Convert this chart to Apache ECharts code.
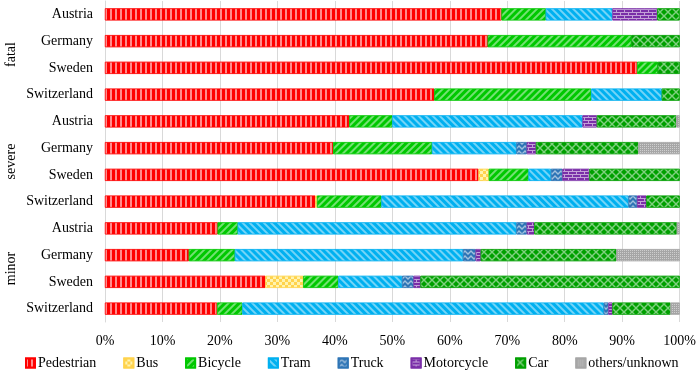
<!DOCTYPE html>
<html>
<head>
<meta charset="utf-8">
<script src="https://cdn.jsdelivr.net/npm/echarts@6/dist/echarts.min.js"></script>
<style>html,body{margin:0;padding:0;background:#fff}#c{width:699px;height:377px}</style>
</head>
<body>
<div id="c"></div>
<script>
const countries = ['Austria','Germany','Sweden','Switzerland','Austria','Germany','Sweden','Switzerland','Austria','Germany','Sweden','Switzerland'];
const groups = ['fatal','severe','minor'];
const xTicks = [0,10,20,30,40,50,60,70,80,90,100];

const pedestrian = [69.0, 66.6, 92.6, 57.3, 42.5, 39.7, 65.0, 36.6, 19.6, 14.6, 27.9, 19.5];
const bus        = [0, 0, 0, 0, 0, 0, 1.8, 0.3, 0, 0, 6.6, 0];
const bicycle    = [7.7, 25.0, 3.6, 27.3, 7.5, 17.2, 6.9, 11.2, 3.5, 8.0, 6.1, 4.4];
const tram       = [11.6, 0, 0, 12.3, 33.1, 14.7, 3.9, 43.0, 48.5, 39.7, 11.1, 62.9];
const truck      = [0, 0, 0, 0, 0, 1.8, 2.0, 1.5, 1.8, 2.2, 2.0, 0.8];
const motorcycle = [7.8, 0, 0, 0, 2.5, 1.6, 4.7, 1.6, 1.3, 0.9, 1.2, 0.7];
const car        = [3.9, 8.4, 3.8, 3.1, 13.8, 17.8, 15.7, 5.8, 24.8, 23.6, 45.1, 10.1];
const others     = [0, 0, 0, 0, 0.6, 7.2, 0, 0, 0.5, 11.0, 0, 1.6];

const seriesNames = ['Pedestrian','Bus','Bicycle','Tram','Truck','Motorcycle','Car','others/unknown'];
const seriesData = [pedestrian, bus, bicycle, tram, truck, motorcycle, car, others];

const styles = [
  {color:'#ff0000', decal:{symbol:'rect', color:'rgba(255,255,255,0.55)', dashArrayX:[1.5,2.5], dashArrayY:[1,0], symbolSize:1}},
  {color:'#ffd34d', decal:{symbol:'rect', color:'#fff3b0', dashArrayX:[[3,3],[0,3,3,0]], dashArrayY:[3,0], symbolSize:1}},
  {color:'#00c800', decal:{symbol:'rect', color:'rgba(255,255,255,0.45)', dashArrayX:[1,0], dashArrayY:[1.2,2.2], rotation:-Math.PI/4, symbolSize:1}},
  {color:'#00b0f0', decal:{symbol:'rect', color:'rgba(255,255,255,0.45)', dashArrayX:[1,0], dashArrayY:[1.2,2.2], rotation:Math.PI/4, symbolSize:1}},
  {color:'#2e75b6', decal:{symbol:'path://M0,3L3,0L6,3L6,5L3,2L0,5Z', color:'rgba(255,255,255,0.55)', dashArrayX:[6,0], dashArrayY:[5,0], symbolSize:1}},
  {color:'#7a2fa8', decal:{symbol:'path://M0,0H8V1H0Z M4,1H5V3H4Z M0,3H8V4H0Z M0,4H1V6H0Z', color:'rgba(255,255,255,0.55)', dashArrayX:[8,0], dashArrayY:[6,0], symbolSize:1}},
  {color:'#00a000', decal:{symbol:'path://M0,0L1,0L8,7L8,8L7,8L0,1Z M7,0L8,0L8,1L1,8L0,8L0,7Z', color:'rgba(255,255,255,0.5)', dashArrayX:[8,0], dashArrayY:[8,0], symbolSize:1}},
  {color:'#a6a6a6', decal:{symbol:'rect', color:'rgba(255,255,255,0.45)', dashArrayX:[1,1], dashArrayY:[1,1], symbolSize:1}}
];

const font = 'Liberation Serif';
const chart = echarts.init(document.getElementById('c'));
chart.setOption({
  animation:false,
  grid:{left:105, right:17, top:1, bottom:55},
  xAxis:{type:'value', min:xTicks[0], max:xTicks[xTicks.length-1], interval:xTicks[1]-xTicks[0],
    axisLabel:{formatter:'{value}%', color:'#000', fontSize:14, fontFamily:font, margin:12},
    axisLine:{show:false}, axisTick:{show:false},
    splitLine:{lineStyle:{color:'#d9d9d9'}}},
  yAxis:[
    {type:'category', data:countries, inverse:true,
     axisLabel:{color:'#000', fontSize:14, fontFamily:font, margin:12},
     axisTick:{show:false}, axisLine:{lineStyle:{color:'#d9d9d9'}}},
    {type:'category', data:groups, inverse:true, position:'left', offset:79,
     axisLabel:{color:'#000', fontSize:14, fontFamily:font, rotate:90, margin:8},
     axisTick:{show:false}, axisLine:{show:false}, splitLine:{show:false}}
  ],
  legend:{left:20, top:351, itemWidth:9, itemHeight:9, itemGap:27, icon:'rect',
    textStyle:{color:'#000', fontSize:14, fontFamily:font, padding:[0,0,0,-2]},
    data:seriesNames},
  series: seriesNames.map((n,i)=>({
    name:n, type:'bar', stack:'all', barWidth:12, yAxisIndex:0,
    itemStyle:{color:styles[i].color, decal:styles[i].decal, borderColor:styles[i].color, borderWidth:0.6},
    data: seriesData[i].map(v=> v===0 ? null : v)
  }))
});
</script>
</body>
</html>
